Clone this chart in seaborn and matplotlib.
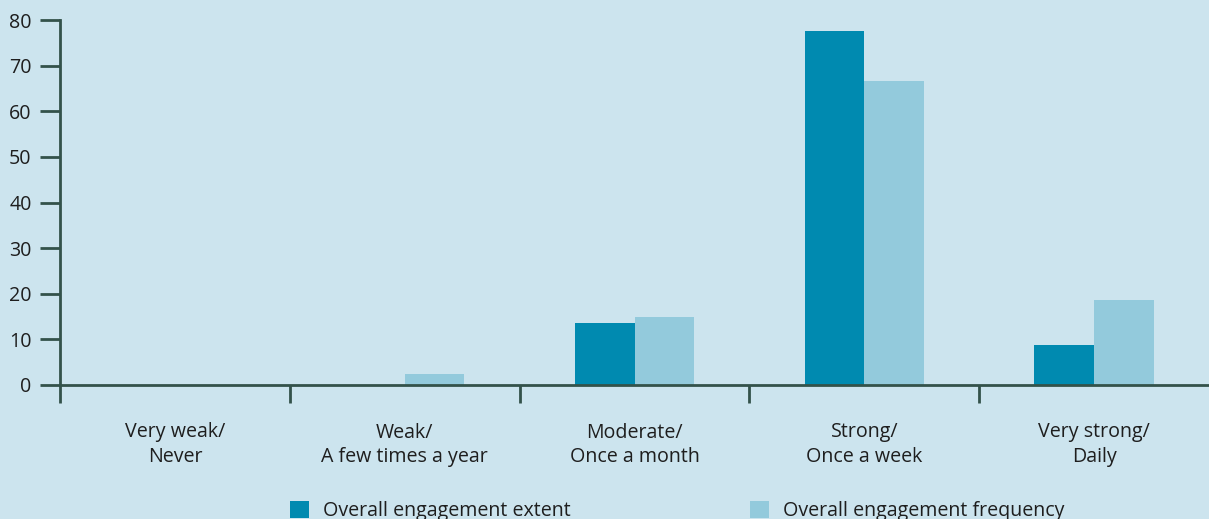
import matplotlib
matplotlib.use("Agg")
import matplotlib.pyplot as plt
import seaborn as sns
import pandas as pd
from matplotlib.ticker import FixedLocator

# ---- data ----
categories = ["Very weak/\nNever", "Weak/\nA few times a year", "Moderate/\nOnce a month",
              "Strong/\nOnce a week", "Very strong/\nDaily"]
series = ["Overall engagement extent", "Overall engagement frequency"]
extent = [0, 0, 13.6, 77.6, 8.8]
frequency = [0, 2.4, 14.9, 66.6, 18.6]
yticks = [0, 10, 20, 30, 40, 50, 60, 70, 80]

df = pd.DataFrame({
    "category": categories * 2,
    "series": [series[0]] * len(categories) + [series[1]] * len(categories),
    "value": extent + frequency,
})

# ---- style ----
bg = "#cce4ee"
dark = "#008ab0"
light = "#93cadc"
axis_col = "#33524a"
text_col = "#1e1e1e"
fs = 14.1

sns.set_theme(style="ticks")
plt.rcParams['font.family'] = ['Open Sans', 'DejaVu Sans']

W, H = 1209, 519
fig = plt.figure(figsize=(W / 100, H / 100), dpi=100, facecolor=bg)
ax = fig.add_axes([60 / W, 1 - 385 / H, 1 - 60 / W, 365 / H])
ax.set_facecolor(bg)

sns.barplot(data=df, x="category", y="value", hue="series", order=categories,
            hue_order=series, palette=[dark, light], width=0.52, saturation=1,
            linewidth=0, edgecolor="none", ax=ax, legend=True)

handles, labels = ax.get_legend_handles_labels()
ax.get_legend().remove()

ax.set_xlim(-0.5, 4.5)
ax.set_ylim(0, 80)
ax.set_yticks(yticks)
ax.set_yticklabels([str(v) for v in yticks])
ax.set_xlabel("")
ax.set_ylabel("")

for s in ["top", "right"]:
    ax.spines[s].set_visible(False)
for s in ["left", "bottom"]:
    ax.spines[s].set_linewidth(2)
    ax.spines[s].set_color(axis_col)
    ax.spines[s].set_zorder(5)

ax.tick_params(axis="y", direction="out", length=14.4, width=2, color=axis_col,
               pad=6, labelsize=fs, labelcolor=text_col)
ax.tick_params(axis="x", which="major", length=0, pad=27, labelsize=fs,
               labelcolor=text_col)
ax.xaxis.set_minor_locator(FixedLocator([-0.5, 0.5, 1.5, 2.5, 3.5]))
ax.tick_params(axis="x", which="minor", direction="out", length=13, width=2,
               color=axis_col)
for lab in ax.get_xticklabels():
    lab.set_linespacing(1.3)

leg = fig.legend(handles, labels, loc="center left", ncol=2,
                 bbox_to_anchor=(290 / W, 1 - 511 / H), frameon=False,
                 fontsize=fs, handlelength=0.97, handleheight=0.97,
                 handletextpad=0.72, columnspacing=9.15, labelcolor=text_col,
                 borderaxespad=0, borderpad=0)
for p in leg.get_patches():
    p.set_linewidth(0)

fig.savefig("out.png", dpi=100, facecolor=bg)
